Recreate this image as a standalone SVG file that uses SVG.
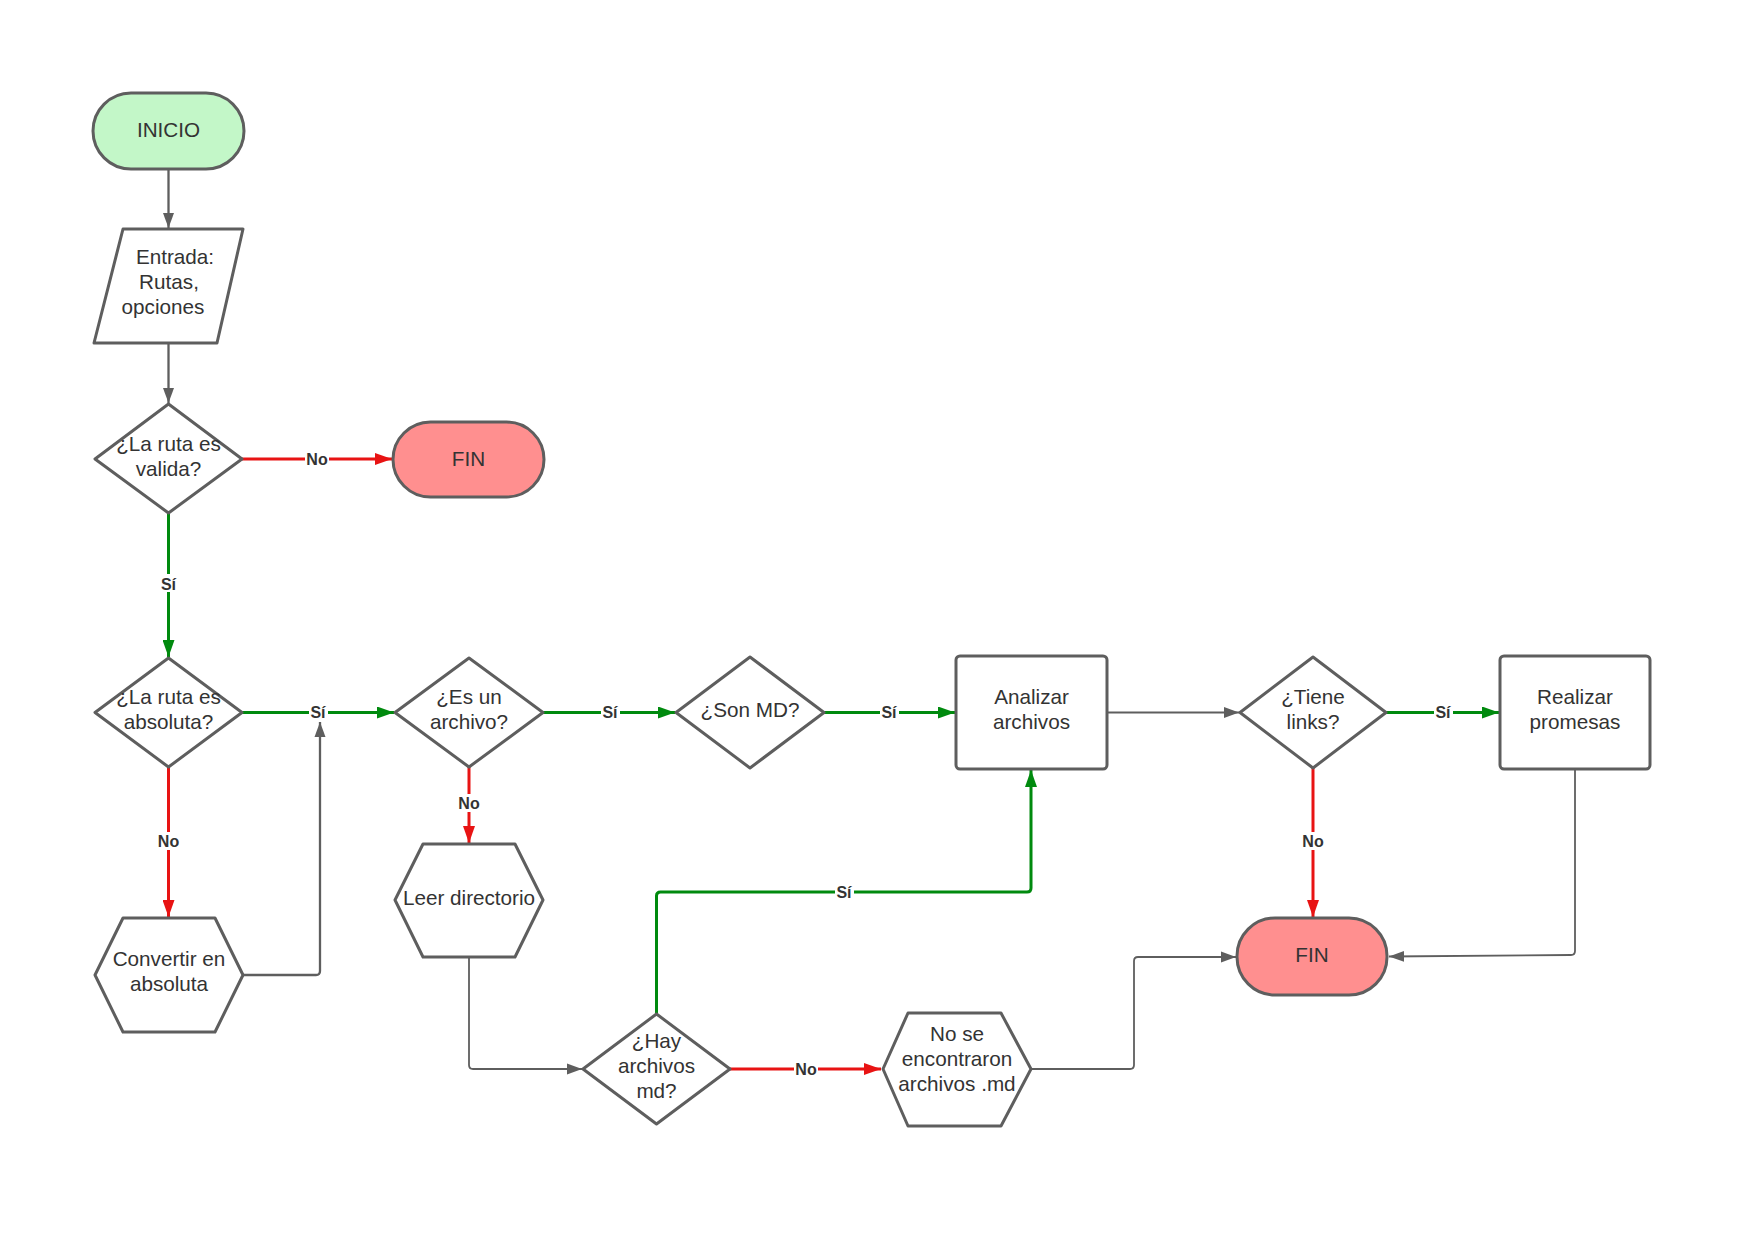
<svg xmlns="http://www.w3.org/2000/svg" width="1754" height="1240" viewBox="0 0 1754 1240">
<style>
.s{fill:#ffffff;stroke:#5e5e5e;stroke-width:3;stroke-linejoin:round}
.start{fill:#c3f7c8}
.end{fill:#ff8f8f}
.t{font-family:"Liberation Sans",Arial,sans-serif;font-size:20.7px;fill:#333333;text-anchor:middle}
.l{font-family:"Liberation Sans",Arial,sans-serif;font-size:16px;font-weight:bold;fill:#333333;text-anchor:middle}
.lb{fill:#ffffff}
.cg{fill:none;stroke:#5e5e5e;stroke-width:2.3}
.cgt{fill:none;stroke:#5e5e5e;stroke-width:1.8}
.cgr{fill:none;stroke:#008a0e;stroke-width:3}
.cr{fill:none;stroke:#e81313;stroke-width:3}
</style>
<defs>
<marker id="ag" viewBox="0 0 15 12" refX="15" refY="6" markerWidth="15" markerHeight="12" orient="auto" markerUnits="userSpaceOnUse"><path d="M0,0.5 L15,6 L0,11.5 z" fill="#5e5e5e"/></marker>
<marker id="agr" viewBox="0 0 17 12" refX="17" refY="6" markerWidth="17" markerHeight="12" orient="auto" markerUnits="userSpaceOnUse"><path d="M0,0 L17,6 L0,12 z" fill="#008a0e"/></marker>
<marker id="ar" viewBox="0 0 17 12" refX="17" refY="6" markerWidth="17" markerHeight="12" orient="auto" markerUnits="userSpaceOnUse"><path d="M0,0 L17,6 L0,12 z" fill="#e81313"/></marker>
</defs>
<rect width="1754" height="1240" fill="#ffffff"/>
<g id="connectors">
<path class="cg" d="M168.5,169 V228" marker-end="url(#ag)"/>
<path class="cg" d="M168.5,343 V403" marker-end="url(#ag)"/>
<path class="cr" d="M242,459 H392" marker-end="url(#ar)"/>
<path class="cgr" d="M168.5,513 V657" marker-end="url(#agr)"/>
<path class="cgr" d="M242,712.5 H394" marker-end="url(#agr)"/>
<path class="cr" d="M168.5,767 V917" marker-end="url(#ar)"/>
<path class="cg" d="M243,975 H316 Q320,975 320,971 V722" marker-end="url(#ag)"/>
<path class="cgr" d="M543,712.5 H675" marker-end="url(#agr)"/>
<path class="cr" d="M469,767 V843" marker-end="url(#ar)"/>
<path class="cgr" d="M824,712.5 H955" marker-end="url(#agr)"/>
<path class="cgt" d="M1107,712.5 H1239" marker-end="url(#ag)"/>
<path class="cgr" d="M1386,712.5 H1499" marker-end="url(#agr)"/>
<path class="cr" d="M1313,768 V917" marker-end="url(#ar)"/>
<path class="cgt" d="M1575,769 V951 Q1575,955 1571,955 L1389,956.5" marker-end="url(#ag)"/>
<path class="cgt" d="M469,957 V1065 Q469,1069 473,1069 H582" marker-end="url(#ag)"/>
<path class="cgr" d="M656.5,1014 V896 Q656.5,892 660.5,892 H1027 Q1031,892 1031,888 V770" marker-end="url(#agr)"/>
<path class="cr" d="M730,1069 H881" marker-end="url(#ar)"/>
<path class="cgt" d="M1031,1069 H1130 Q1134,1069 1134,1065 V961 Q1134,957 1138,957 H1236" marker-end="url(#ag)"/>
<g id="labels">
<rect class="lb" x="305" y="452" width="24" height="14"/><text class="l" x="317" y="464.5">No</text>
<rect class="lb" x="157" y="574" width="23" height="18"/><text class="l" x="168.5" y="590">Sí</text>
<rect class="lb" x="309" y="705" width="19" height="14"/><text class="l" x="318" y="717.5">Sí</text>
<rect class="lb" x="156" y="832" width="25" height="18"/><text class="l" x="168.5" y="847">No</text>
<rect class="lb" x="601" y="705" width="19" height="14"/><text class="l" x="610" y="717.5">Sí</text>
<rect class="lb" x="457" y="794" width="25" height="18"/><text class="l" x="469" y="809">No</text>
<rect class="lb" x="880" y="705" width="19" height="14"/><text class="l" x="889" y="717.5">Sí</text>
<rect class="lb" x="1434" y="705" width="19" height="14"/><text class="l" x="1443" y="717.5">Sí</text>
<rect class="lb" x="1301" y="832" width="25" height="18"/><text class="l" x="1313" y="847">No</text>
<rect class="lb" x="835" y="885" width="19" height="14"/><text class="l" x="844" y="897.5">Sí</text>
<rect class="lb" x="794" y="1062" width="24" height="14"/><text class="l" x="806" y="1074.5">No</text>
</g>
</g>
<g id="inicio"><rect class="s start" x="93" y="93" width="151" height="76" rx="38"/><text class="t" x="168.5" y="137">INICIO</text></g>
<g id="entrada"><path class="s" d="M123,229 H243 L217,343 H94 Z"/><text class="t"><tspan x="175" y="264">Entrada:</tspan><tspan x="169" y="289">Rutas,</tspan><tspan x="163" y="314">opciones</tspan></text></g>
<g id="valida"><path class="s" d="M168.5,404 L242,459 L168.5,513 L95,459 Z"/><text class="t"><tspan x="168.5" y="451">¿La ruta es</tspan><tspan x="168.5" y="476">valida?</tspan></text></g>
<g id="fin1"><rect class="s end" x="393" y="422" width="151" height="75" rx="37.5"/><text class="t" x="468.5" y="466">FIN</text></g>
<g id="absoluta"><path class="s" d="M168.5,658 L242,712.5 L168.5,767 L95,712.5 Z"/><text class="t"><tspan x="168.5" y="704">¿La ruta es</tspan><tspan x="168.5" y="729">absoluta?</tspan></text></g>
<g id="convertir"><path class="s" d="M123,918 H215 L243,975 L215,1032 H123 L95,975 Z"/><text class="t"><tspan x="169" y="966">Convertir en</tspan><tspan x="169" y="991">absoluta</tspan></text></g>
<g id="esarchivo"><path class="s" d="M469,658 L543,712.5 L469,767 L395,712.5 Z"/><text class="t"><tspan x="469" y="704">¿Es un</tspan><tspan x="469" y="729">archivo?</tspan></text></g>
<g id="leer"><path class="s" d="M423,844 H515 L543,900 L515,957 H423 L395,900 Z"/><text class="t" x="469" y="905">Leer directorio</text></g>
<g id="sonmd"><path class="s" d="M750,657 L824,712.5 L750,768 L676,712.5 Z"/><text class="t" x="750" y="717">¿Son MD?</text></g>
<g id="analizar"><rect class="s" x="956" y="656" width="151" height="113" rx="4"/><text class="t"><tspan x="1031.5" y="704">Analizar</tspan><tspan x="1031.5" y="729">archivos</tspan></text></g>
<g id="hay"><path class="s" d="M656.5,1014 L730,1069 L656.5,1124 L583,1069 Z"/><text class="t"><tspan x="656.5" y="1048">¿Hay</tspan><tspan x="656.5" y="1073">archivos</tspan><tspan x="656.5" y="1098">md?</tspan></text></g>
<g id="nose"><path class="s" d="M908,1013 H1001 L1031,1069 L1001,1126 H908 L883,1069 Z"/><text class="t"><tspan x="957" y="1041">No se</tspan><tspan x="957" y="1066">encontraron</tspan><tspan x="957" y="1091">archivos .md</tspan></text></g>
<g id="tiene"><path class="s" d="M1313,657 L1386,712.5 L1313,768 L1240,712.5 Z"/><text class="t"><tspan x="1313" y="704">¿Tiene</tspan><tspan x="1313" y="729">links?</tspan></text></g>
<g id="realizar"><rect class="s" x="1500" y="656" width="150" height="113" rx="4"/><text class="t"><tspan x="1575" y="704">Realizar</tspan><tspan x="1575" y="729">promesas</tspan></text></g>
<g id="fin2"><rect class="s end" x="1237" y="918" width="150" height="77" rx="38"/><text class="t" x="1312" y="962">FIN</text></g>
</svg>
